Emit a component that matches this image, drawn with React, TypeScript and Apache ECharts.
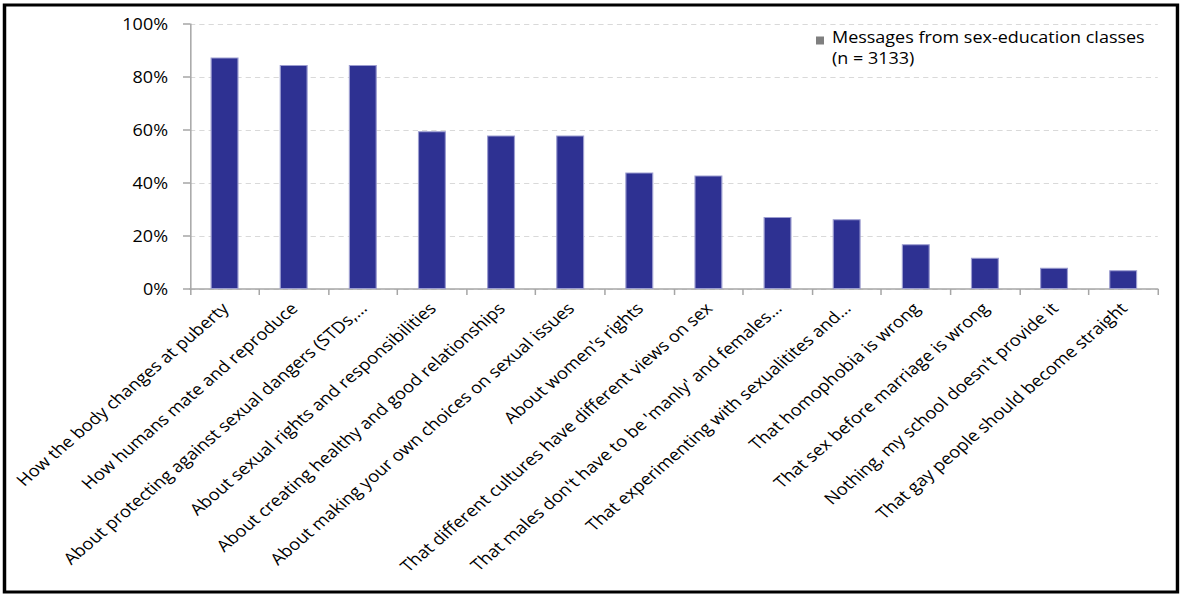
import React, { useEffect, useRef } from "react";
import * as echarts from "echarts";

const categories: string[] = [
  "How the body changes at puberty",
  "How humans mate and reproduce",
  "About protecting against sexual dangers (STDs,…",
  "About sexual rights and responsibilities",
  "About creating healthy and good relationships",
  "About making your own choices on sexual issues",
  "About women's rights",
  "That different cultures have different views on sex",
  "That males don't have to be 'manly' and females…",
  "That experimenting with sexualitites and…",
  "That homophobia is wrong",
  "That sex before marriage is wrong",
  "Nothing, my school doesn't provide it",
  "That gay people should become straight",
];

const values: number[] = [87.4, 84.5, 84.5, 59.5, 57.9, 57.9, 44.0, 42.8, 27.2, 26.3, 16.9, 11.8, 8.0, 7.1];

const seriesName = "Messages from sex-education classes";
const legendNote = "(n = 3133)";

const FONT = "'Open Sans', 'Noto Sans', sans-serif";

// the reference is horizontally stretched; draw narrower and stretch with CSS
const S = 1.16;
const W = 1180 / S;
const H = 594;
const px = (v: number) => v / S;

export default function App() {
  const ref = useRef<HTMLDivElement>(null);
  useEffect(() => {
    if (!ref.current) return;
    const chart = echarts.init(ref.current, null, { renderer: "svg" });
    chart.setOption({
      animation: false,
      backgroundColor: "#ffffff",
      grid: { left: px(190), right: px(22), top: 24, bottom: 305, containLabel: false },
      xAxis: {
        type: "category",
        data: categories,
        boundaryGap: true,
        axisLine: { show: true, lineStyle: { color: "#a6a6a6", width: 1.5 } },
        axisTick: { show: true, length: 6, alignWithLabel: false, lineStyle: { color: "#a6a6a6", width: 1.3 } },
        axisLabel: {
          interval: 0,
          rotate: 45,
          margin: 16,
          color: "#000000",
          fontFamily: FONT,
          fontSize: 16,
        },
      },
      yAxis: {
        type: "value",
        min: 0,
        max: 100,
        interval: 20,
        axisLine: { show: true, lineStyle: { color: "#a6a6a6", width: 1.3 } },
        axisTick: { show: true, length: px(7), lineStyle: { color: "#a6a6a6", width: 1.5 } },
        axisLabel: {
          formatter: "{value}%",
          color: "#000000",
          fontFamily: FONT,
          fontSize: 15.5,
          margin: px(22),
        },
        splitLine: { show: true, lineStyle: { color: "#d9d9d9", type: [4.5, 3.5], width: 1 } },
      },
      series: [
        {
          name: seriesName,
          type: "bar",
          data: values,
          barWidth: px(28),
          itemStyle: { color: "#2e3192", borderColor: "#9c9dd0", borderWidth: 1 },
        },
      ],
      graphic: [
        {
          type: "rect",
          shape: { x: px(4.5), y: 5, width: px(1173), height: 587 },
          style: { fill: "none", stroke: "#000000", lineWidth: 3 },
          silent: true,
        },
        {
          type: "rect",
          shape: { x: px(816), y: 36.5, width: px(8), height: 8 },
          style: { fill: "#7f7f7f" },
        },
        {
          type: "text",
          x: px(832),
          y: 29,
          style: {
            text: seriesName,
            fontFamily: FONT,
            fontSize: 15.5,
            fill: "#000000",
            verticalAlign: "top",
          },
        },
        {
          type: "text",
          x: px(832),
          y: 50,
          style: {
            text: legendNote,
            fontFamily: FONT,
            fontSize: 15.5,
            fill: "#000000",
            verticalAlign: "top",
          },
        },
      ],
    });
    return () => chart.dispose();
  }, []);
  return (
    <div
      ref={ref}
      style={{
        position: "fixed",
        left: 0,
        top: 0,
        width: W,
        height: H,
        transform: `scaleX(${S})`,
        transformOrigin: "0 0",
      }}
    />
  );
}
